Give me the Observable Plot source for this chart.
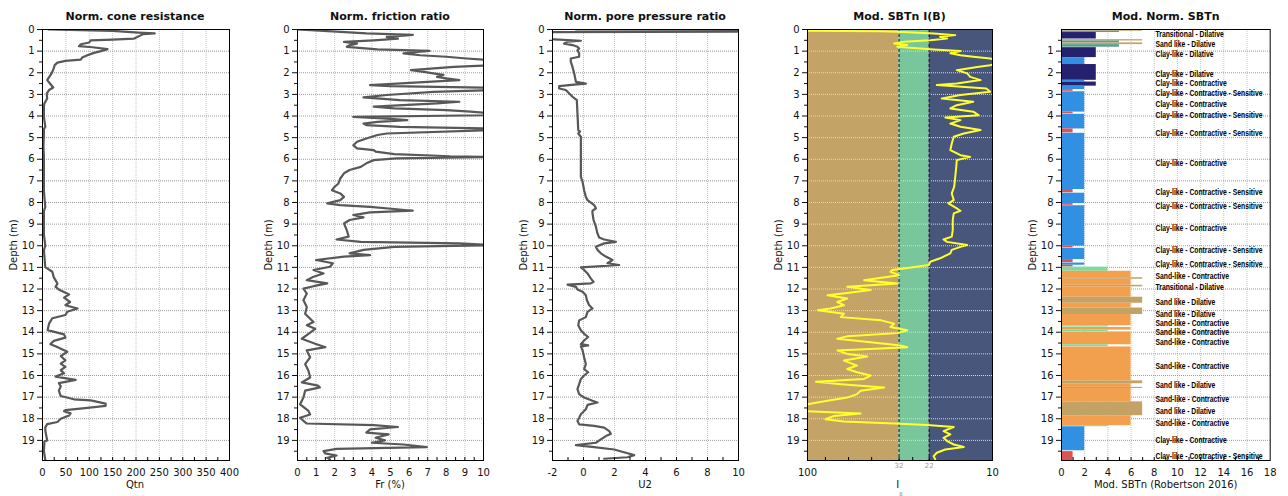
<!DOCTYPE html>
<html><head><meta charset="utf-8">
<script src="https://cdn.jsdelivr.net/npm/d3@7"></script>
<script src="https://cdn.jsdelivr.net/npm/@observablehq/plot@0.6"></script>
<style>
body{margin:0;background:#fff;}
#root{position:relative;width:1288px;height:496px;overflow:hidden;font-family:"DejaVu Sans",Verdana,sans-serif;color:#111;}
.title{position:absolute;top:10px;line-height:13px;font-weight:bold;font-size:11px;transform:translateX(-50%);white-space:nowrap;}
.xlab{position:absolute;top:479px;line-height:12px;font-size:10px;transform:translateX(-50%);white-space:nowrap;}
.ylab{position:absolute;top:245px;line-height:12px;font-size:10px;transform:translate(-50%,-50%) rotate(-90deg);white-space:nowrap;}
.sub{font-size:5px;color:#999;vertical-align:-8px;}
svg{position:absolute;top:0;}
</style></head><body><div id="root"></div>
<script>
// ---------------- data ----------------
const qtnDepth = [0,0.06,0.14,0.18,0.22,0.26,0.42,0.47,0.5,0.6,0.68,0.77,0.82,0.91,1.0,1.08,1.19,1.29,1.39,1.45,1.53,1.65,1.8,1.96,2.11,2.34,2.5,2.68,2.8,2.96,3.19,3.42,3.57,4.04,4.5,4.6,4.81,5.42,5.89,6.5,7.5,8.2,8.4,9.5,10.0,10.2,10.99,11.2,11.45,11.75,11.9,12.05,12.25,12.4,12.6,12.75,12.9,13.05,13.2,13.35,13.6,13.9,14.1,14.25,14.4,14.55,14.65,14.9,15.1,15.3,15.45,15.6,15.75,15.9,16.05,16.2,16.35,16.5,16.7,16.95,17.1,17.15,17.3,17.4,17.5,17.6,17.65,17.75,17.85,18.0,18.15,18.25,18.4,18.55,19.0,19.05,19.5,19.9];
const qtnValue = [13,150,205,240,215,211,196,150,103,100,82,78,107,139,125,110,96,85,82,49,32,26,24,21,17,10,16,23,14,9,10,4,3,3,6,3,3,2,3,3,3,6,3,3,6,3,6,21,24,32,28,37,57,46,59,49,75,53,49,21,14,11,46,49,24,17,28,53,39,49,39,49,39,46,28,71,35,39,35,39,67,103,135,135,96,49,46,60,57,39,32,10,6,6,10,4,3,6];

const frDepth = [0,0.1,0.18,0.25,0.34,0.42,0.5,0.57,0.65,0.72,0.8,0.92,0.99,1.03,1.1,1.19,1.26,1.34,1.42,1.65,1.73,1.88,1.96,2.03,2.1,2.19,2.26,2.34,2.42,2.57,2.62,2.7,2.8,2.88,3.03,3.14,3.27,3.34,3.42,3.57,3.65,3.73,3.8,3.88,3.96,4.04,4.11,4.19,4.27,4.35,4.42,4.5,4.58,4.65,4.81,4.88,5.04,5.19,5.35,5.5,5.58,5.65,5.76,5.86,5.89,5.96,6.04,6.19,6.35,6.5,6.65,6.89,7.12,7.27,7.43,7.58,7.74,7.89,8.04,8.12,8.2,8.3,8.38,8.46,8.58,8.69,8.81,8.97,9.28,9.58,9.71,9.82,9.89,9.97,10.05,10.19,10.35,10.43,10.5,10.66,10.81,10.97,11.12,11.28,11.43,11.59,11.74,11.87,11.98,12.21,12.52,12.83,13.14,13.53,13.68,13.84,14.07,14.3,14.53,14.69,14.84,15.16,15.47,15.78,16.09,16.32,16.47,16.55,16.7,17.02,17.33,17.64,17.8,17.95,18.1,18.22,18.29,18.38,18.49,18.64,18.72,18.88,19.0,19.11,19.19,19.31,19.39,19.5,19.6,19.7,19.81,19.88];
const frValue = [0,2.1,3.7,6.2,4.8,5.4,4.1,2.5,3.2,2.8,2.65,4.3,7.1,6.6,5.7,6.6,8.0,9.1,10.5,10.5,8.4,6.1,6.8,7.3,7.85,7.5,8.0,8.7,7.0,3.9,5.0,10.5,10.5,7.3,4.8,3.55,5.5,8.7,7.5,4.1,5.2,8.0,9.3,10.5,10.5,3.0,4.6,5.9,4.3,3.55,3.7,5.5,10.5,10.5,4.8,4.3,3.7,3.2,3.0,3.2,4.1,4.2,5.2,8.2,10.5,5.3,4.1,3.7,3.4,2.8,2.5,2.3,2.2,2.0,1.85,2.3,2.5,2.3,1.6,2.3,3.9,5.2,6.2,3.9,3.0,3.55,2.8,2.5,2.65,2.75,2.1,3.4,8.7,10.5,5.2,3.55,2.8,3.9,2.5,1.0,1.9,1.75,0.86,1.4,0.86,0.5,1.6,0.86,0.32,0.5,0.32,0.5,0.41,0.86,0.5,0.95,0.59,0.23,0.95,1.5,0.5,0.68,0.41,0.59,0.68,0.23,1.1,1.2,0.41,0.32,0.14,0.59,0.68,0.14,0.32,0.5,4.1,5.4,3.9,3.7,4.9,4.2,4.7,4.0,5.7,6.95,2.1,1.4,1.48,2.1,1.6,1.75];

const u2Depth = [0,0.03,0.1,0.12,0.44,0.46,0.52,0.56,0.65,0.72,0.8,0.88,0.96,1.1,1.26,1.34,1.49,1.73,2.03,2.42,2.5,2.55,2.62,2.73,2.8,2.96,3.11,3.27,3.88,4.65,4.72,4.81,4.96,5.27,5.73,6.04,6.81,7.04,7.43,7.74,7.89,8.12,8.27,8.38,8.5,8.81,9.12,9.43,9.62,9.71,9.82,9.89,10.05,10.19,10.35,10.5,10.66,10.81,10.89,11.0,11.12,11.28,11.51,11.67,11.74,11.8,11.9,12.02,12.13,12.29,12.52,12.75,12.9,13.06,13.3,13.45,13.68,13.91,14.07,14.22,14.38,14.55,14.61,14.65,14.84,15.16,15.47,15.7,15.85,16.0,16.16,16.4,16.63,16.86,17.02,17.17,17.25,17.36,17.56,17.79,17.95,18.1,18.26,18.33,18.41,18.57,18.7,18.8,18.95,19.11,19.22,19.31,19.42,19.57,19.68,19.78,19.85];
const u2Value = [-0.5,14,14,-2.6,-2.6,-1.89,-0.17,-1.0,-1.25,-0.71,-0.39,-0.28,-0.39,-0.28,-0.28,-0.82,-0.82,-0.71,-0.6,-0.49,0.15,-0.6,-1.57,-1.57,-1.14,-0.92,-0.71,-0.43,-0.39,-0.34,-0.22,-0.34,-0.17,-0.17,-0.17,-0.17,-0.17,-0.06,0.04,0.15,0.26,0.69,0.8,0.58,0.58,0.65,0.8,0.9,1.01,1.33,2.09,1.33,0.8,0.9,1.12,1.44,1.87,1.55,2.3,-0.17,0.04,0.26,0.47,0.65,0.47,-1.03,-0.49,-0.39,-0.06,0.15,0.22,0.37,0.58,0.26,0.15,-0.28,-0.34,-0.17,0.04,0.3,0.04,-0.17,0.3,-0.17,-0.06,0.04,0.15,0.04,0.3,0.04,-0.17,-0.28,-0.39,-0.28,0.04,0.58,0.9,0.26,0.15,-0.17,-0.28,-0.39,-0.28,0.69,1.33,1.66,1.76,1.44,1.12,0.8,-0.49,0.69,1.98,2.73,3.27,2.84,1.33];

const ibDepth = [0,0.05,0.08,0.1,0.18,0.26,0.34,0.42,0.5,0.57,0.65,0.72,0.8,0.92,0.99,1.1,1.19,1.26,1.34,1.42,1.57,1.65,1.73,1.88,2.03,2.19,2.34,2.5,2.57,2.73,2.88,3.03,3.19,3.34,3.5,3.65,3.8,3.96,4.07,4.19,4.35,4.5,4.65,4.81,4.96,5.27,5.58,5.81,5.89,6.04,6.35,6.81,7.27,7.58,7.89,8.04,8.27,8.38,8.5,8.81,9.28,9.58,9.71,9.82,9.97,10.05,10.19,10.35,10.58,10.74,10.89,11.05,11.12,11.2,11.36,11.59,11.74,11.9,12.05,12.18,12.29,12.44,12.6,12.75,12.9,12.98,13.14,13.3,13.45,13.6,13.76,13.91,14.04,14.19,14.3,14.46,14.61,14.69,14.84,15.0,15.12,15.31,15.54,15.7,15.85,16.0,16.16,16.29,16.4,16.55,16.7,16.86,17.02,17.17,17.33,17.48,17.64,17.76,17.87,18.02,18.13,18.22,18.29,18.38,18.57,18.72,18.88,19.03,19.19,19.31,19.42,19.57,19.73,19.88];
const ibValue = [150,150,40,32.7,20.8,15.9,19.2,17.6,21.7,30.1,34,28.9,32.7,20.8,14.9,16.9,14.9,12.7,10.3,9.5,9.5,10.3,12.1,15.6,13.7,13.2,11.6,15.6,20.0,10.8,10.3,14.9,18.8,12.7,15.6,16.9,12.7,11.9,18.0,14.9,16.9,14.9,11.6,14.3,16.2,16.6,16.9,14.9,13.2,15.6,15.7,15.9,16.1,16.6,16.2,17.3,15.6,14.9,16.2,16.4,16.4,16.6,18.4,17.6,13.7,14.9,16.6,16.9,19.2,21.7,22.1,30.1,34.8,35.6,32,49.5,32.7,61,45.6,61,78,61,69,63.5,75,88,63.5,66,40,34,35.6,28.9,32.7,61,69,45.6,31.4,28.9,69,61,47.5,63.5,54,61,54,45.6,49.5,90,66,38.6,51.6,54,61,78,100,115,105,51.6,72,80,63.5,34,22.6,16.2,18.4,16.9,18.4,17.6,16.2,14.3,18.0,20.0,20.8,20.4];
const ibZoneEdges = [100, 32, 22, 10];

// SBTn layers: top depth, bottom depth, code (1 CCS, 2 CC, 3 CD, 4 TC, 5 TD, 6 SC, 7 SD)
const sbtTop    = [0.00,0.08,0.14,0.47,0.53,0.62,0.70,0.84,1.30,1.62,2.35,2.43,2.62,2.78,2.88,3.82,3.92,4.60,4.80,7.40,7.57,8.05,8.15,10.02,10.12,10.64,10.80,10.90,10.99,11.18,11.48,11.55,11.83,11.90,12.38,12.66,12.88,13.18,13.70,13.78,13.90,13.99,14.58,14.68,16.25,16.38,16.55,16.60,17.22,17.86,18.32,18.37,19.52];
const sbtBottom = [0.08,0.14,0.44,0.53,0.62,0.70,0.82,1.30,1.62,2.35,2.43,2.62,2.78,2.86,3.82,3.90,4.60,4.78,7.40,7.55,8.05,8.13,10.02,10.10,10.64,10.78,10.90,10.98,11.18,11.48,11.55,11.83,11.90,12.38,12.66,12.88,13.18,13.70,13.76,13.90,13.97,14.58,14.66,16.25,16.38,16.55,16.60,17.22,17.86,18.32,18.37,19.48,19.93];
const sbtCode   = [7,5,3,7,5,7,5,3,2,3,2,3,2,1,2,1,2,1,2,1,2,1,2,1,2,1,2,1,4,6,7,6,7,6,7,6,7,6,4,6,4,6,4,6,7,6,7,6,7,6,4,2,1];
const sbtLabelDepth = [0.22,0.66,1.14,2.06,2.5,2.96,3.47,3.98,4.81,6.19,7.52,8.17,9.17,10.19,10.83,11.42,11.91,12.61,13.15,13.56,13.99,14.46,15.58,16.46,17.07,17.65,18.18,19.0,19.74];
const sbtLabelText = ["Transitional - Dilative","Sand like - Dilative","Clay-like - Dilative","Clay-like - Dilative","Clay-like - Contractive","Clay-like - Contractive - Sensitive","Clay-like - Contractive","Clay-like - Contractive - Sensitive","Clay-like - Contractive - Sensitive","Clay-like - Contractive","Clay-like - Contractive - Sensitive","Clay-like - Contractive - Sensitive","Clay-like - Contractive","Clay-like - Contractive - Sensitive","Clay-like - Contractive - Sensitive","Sand-like - Contractive","Transitional - Dilative","Sand like - Dilative","Sand like - Dilative","Sand-like - Contractive","Sand-like - Contractive","Sand-like - Contractive","Sand-like - Contractive","Sand like - Dilative","Sand-like - Contractive","Sand like - Dilative","Sand-like - Contractive","Clay-like - Contractive","Clay-like - Contractive - Sensitive"];

// ---------------- styles ----------------
const sbtColors = {1:"#dc5452",2:"#3190e2",3:"#25216f",4:"#78dd9e",5:"#5b9d8b",6:"#f29f4e",7:"#c2a265"};
const zoneColors = ["#c4a466","#7ac69c","#47567a"];
const FONT = '"DejaVu Sans", Verdana, sans-serif';
const H = 496, MT = 29, MB = 36, ML = 48, MR = 8, FH = H - MT - MB;
const DEPTH_MAX = 19.93;
const yMajor = d3.range(0, 20);
const yMinor = d3.range(0.5, 20, 1);
const root = document.getElementById("root");

const series = (ds, vs) => ds.map((d, i) => ({depth: d, value: vs[i]}));

function makePanel({left, right, x, under = [], marks = [], xMajor, xMinor, xGrid, xFormat, yLabels = yMajor, gridYStroke = "#9a9a9a", marginRight = MR}) {
  const svg = Plot.plot({
    width: ML + (right - left) + marginRight, height: H,
    marginTop: MT, marginBottom: MB, marginLeft: ML, marginRight,
    style: {fontFamily: FONT, fontSize: "10px", color: "#111", background: "transparent", overflow: "visible"},
    x,
    y: {domain: [0, DEPTH_MAX], reverse: true},
    marks: [
      ...under,
      xGrid ? Plot.gridX(xGrid, {stroke: "#c4c4c4", strokeOpacity: 1, strokeDasharray: "1,1"}) : null,
      Plot.gridY(yMajor, {stroke: gridYStroke, strokeOpacity: 1, strokeDasharray: "1,1"}),
      ...marks,
      Plot.axisY(yLabels, {tickSize: 5, tickPadding: 3, label: null}),
      Plot.axisY(yMinor, {tickSize: 3, tickFormat: () => "", label: null}),
      Plot.axisX(xMajor, {tickSize: 0, tickPadding: 8, label: null, tickFormat: xFormat}),
      Plot.tickX(xMinor, {x: d => d, insetTop: FH - 3, stroke: "#000"}),
      Plot.frame({stroke: "#000"})
    ]
  });
  svg.style.left = (left - ML) + "px";
  root.append(svg);
  return svg;
}

function html(cls, text, x, y) {
  const el = document.createElement("div");
  el.className = cls; el.innerHTML = text; el.style.left = x + "px";
  if (y != null) el.style.top = y + "px";
  root.append(el);
}

const lineStyle = {x: "value", y: "depth", stroke: "#585858", strokeWidth: 2.2, clip: true};

// Panel 1
makePanel({left: 41.5, right: 228.5, x: {domain: [0, 400]},
  xMajor: d3.range(0, 401, 50), xMinor: d3.range(25, 400, 25), xGrid: d3.range(50, 400, 50),
  marks: [Plot.line(series(qtnDepth, qtnValue), lineStyle)]});
// Panel 2
makePanel({left: 297, right: 483, x: {domain: [0, 10]},
  xMajor: d3.range(0, 11), xMinor: d3.range(0.5, 10, 0.5), xGrid: d3.range(1, 10),
  marks: [Plot.line(series(frDepth, frValue), lineStyle)]});
// Panel 3
makePanel({left: 552, right: 738, x: {domain: [-2, 10]},
  xMajor: d3.range(-2, 11, 2), xMinor: d3.range(-1, 10, 1), xGrid: d3.range(0, 10, 2), xFormat: d => String(d),
  marks: [Plot.line(series(u2Depth, u2Value), lineStyle)]});
// Panel 4
const zones = zoneColors.map((c, i) => ({from: ibZoneEdges[i], to: ibZoneEdges[i + 1], color: c}));
makePanel({left: 807, right: 992, x: {type: "log", domain: [100, 10]},
  xMajor: [100, 10], xMinor: [80, 60, 45, 32, 27, 22], xFormat: d => String(d), gridYStroke: "#d8d8d8",
  under: [Plot.rect(zones, {x1: "from", x2: "to", fill: "color"})],
  marks: [
    Plot.ruleX(ibZoneEdges.slice(1, 3), {stroke: "#111", strokeDasharray: "3,2"}),
    Plot.line(series(ibDepth, ibValue), {...lineStyle, stroke: "#ffff2e", strokeWidth: 2}),
    Plot.text(ibZoneEdges.slice(1, 3), {x: d => d, frameAnchor: "bottom", dy: 7, fontSize: 7, fill: "#999", text: d => String(d)})
  ]});
// Panel 5
const layers = sbtTop.map((t, i) => ({top: t, bottom: sbtBottom[i], code: sbtCode[i]}));
const sbtLabels = sbtLabelDepth.map((d, i) => ({depth: d, text: sbtLabelText[i]}));
const svg5 = makePanel({left: 1061.3, right: 1270, x: {domain: [0, 18]}, marginRight: 18,
  xMajor: d3.range(0, 19, 2), xMinor: d3.range(1, 18, 1), xGrid: d3.range(2, 18, 2),
  yLabels: d3.range(1, 20),
  marks: [
    Plot.rect(layers, {x1: 0, x2: "code", y1: "top", y2: "bottom", fill: d => sbtColors[d.code]}),
    Plot.text(sbtLabels, {y: "depth", text: "text", frameAnchor: "left", dx: 94, textAnchor: "start",
      fontSize: 9, fontWeight: "bold", fontFamily: '"Liberation Sans", sans-serif', fill: "#000"})
  ]});
// condense the SBTn zone labels to the narrow lettering of the original
{
  const labelSet = new Set(sbtLabelText);
  const texts = [...svg5.querySelectorAll("text")].filter(t => labelSet.has(t.textContent));
  const lens = texts.map(t => t.getComputedTextLength());
  const longest = Math.max(...lens);
  if (texts.length && longest > 0) {
    const k = 107 / longest;
    texts.forEach((t, i) => {
      t.setAttribute("textLength", (lens[i] * k).toFixed(1));
      t.setAttribute("lengthAdjust", "spacingAndGlyphs");
    });
  }
}

// titles and axis labels
const frames = [[41.5, 228.5], [297, 483], [552, 738], [807, 992], [1061.3, 1270]];
const titles = ["Norm. cone resistance", "Norm. friction ratio", "Norm. pore pressure ratio", "Mod. SBTn I(B)", "Mod. Norm. SBTn"];
const xLabels = ["Qtn", "Fr (%)", "U2", "I<span class='sub'>B</span>", "Mod. SBTn (Robertson 2016)"];
frames.forEach(([l, r], i) => {
  html("title", titles[i], (l + r) / 2);
  html("xlab", xLabels[i], (l + r) / 2);
  html("ylab", "Depth (m)", l - 28);
});
</script></body></html>
